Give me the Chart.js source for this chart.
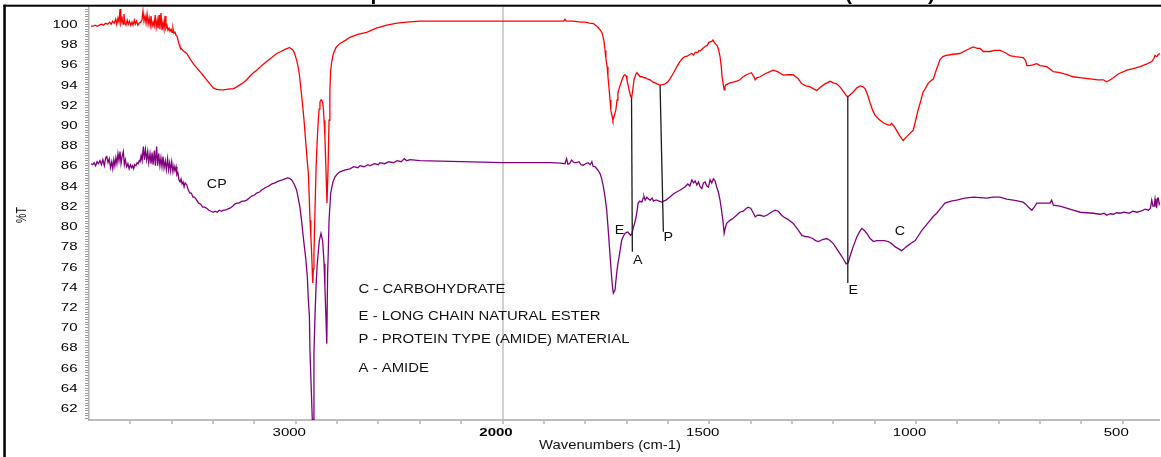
<!DOCTYPE html>
<html>
<head>
<meta charset="utf-8">
<script src="https://cdn.jsdelivr.net/npm/chart.js@4.4.1/dist/chart.umd.min.js"></script>
<style>
  html, body { margin: 0; padding: 0; background: #fff; overflow: hidden; }
  canvas { display: block; }
</style>
</head>
<body>
<canvas id="c" width="1161" height="457"></canvas>
<script>
// ---- axis ranges --------------------------------------------------------
const WN_MAX = 4000, WN_MIN = 410;      // wavenumber range, cm-1 (high on the left)
const AXIS_BREAK = 2000;                // below this wavenumber the axis is expanded
const AXIS_EXPAND = 2;                  // expansion factor below the break
const T_MIN = 60.85, T_MAX = 101.7;     // %T range

const xTickMarks = [3800, 3600, 3400, 3200, 3000, 2800, 2600, 2400, 2200, 2000,
                    1900, 1800, 1700, 1600, 1500, 1400, 1300, 1200, 1100, 1000,
                    900, 800, 700, 600, 500];
const xTickLabels = [3000, 2000, 1500, 1000, 500];
const yTickLabels = [62, 64, 66, 68, 70, 72, 74, 76, 78, 80, 82, 84, 86, 88, 90, 92, 94, 96, 98, 100];

// ---- spectra: [wavenumber cm-1, %T] ----------------------------------------
const upperSpectrum = [
  [3990,99.8],[3980,99.8],[3970,99.9],[3960,99.8],[3950,99.9],[3940,100.0],[3930,99.9],[3920,100.1],
  [3910,100.0],[3900,100.2],[3893,100.0],[3886,100.3],[3878,100.1],[3871,100.5],[3866,100.0],[3860,100.6],
  [3855,100.2],[3850,101.5],[3846,100.1],[3840,100.6],[3835,100.0],[3831,101.0],[3826,100.1],[3821,99.9],
  [3815,100.4],[3810,100.0],[3804,100.3],[3798,99.9],[3792,100.2],[3787,99.9],[3781,100.4],[3776,100.0],
  [3770,100.3],[3764,99.9],[3758,100.1],[3750,100.2],[3744,100.4],[3739,101.3],[3734,100.3],[3729,100.8],
  [3724,100.1],[3719,101.0],[3714,100.0],[3709,100.6],[3704,99.9],[3700,100.8],[3695,99.8],[3690,100.2],
  [3685,99.8],[3680,100.9],[3675,99.7],[3670,100.4],[3666,99.6],[3661,100.9],[3657,99.5],[3652,101.1],
  [3647,99.4],[3642,100.2],[3637,99.5],[3632,100.8],[3628,99.6],[3623,99.9],[3618,99.4],[3613,99.6],
  [3608,99.3],[3603,99.5],[3598,99.2],[3594,99.6],[3589,99.1],[3584,99.2],[3579,98.9],[3574,98.8],
  [3568,98.3],[3564,98.0],[3560,97.75],[3550,97.5],[3540,97.3],[3527,97.1],[3512,96.6],[3496,96.1],
  [3480,95.7],[3463,95.3],[3447,94.9],[3431,94.5],[3415,94.1],[3399,93.7],[3383,93.55],[3366,93.5],
  [3350,93.5],[3334,93.55],[3318,93.6],[3302,93.6],[3286,93.8],[3270,94.0],[3254,94.2],[3237,94.5],
  [3220,94.9],[3205,95.2],[3189,95.45],[3165,95.9],[3141,96.3],[3116,96.7],[3092,97.1],[3072,97.3],
  [3052,97.5],[3040,97.6],[3031,97.7],[3020,97.55],[3012,97.4],[3004,97.0],[2995,96.4],[2989,95.8],
  [2983,95.1],[2977,94.0],[2971,92.8],[2965,91.6],[2960,90.5],[2955,89.2],[2950,87.9],[2945,86.6],
  [2939,85.2],[2935,83.0],[2931,80.6],[2927,79.0],[2923,77.3],[2918,74.4],[2915,75.8],[2912,77.3],
  [2907,81.5],[2902,85.6],[2897,88.2],[2891,90.5],[2887,91.6],[2883,92.3],[2878,92.5],[2874,92.5],
  [2870,92.2],[2867,91.8],[2863,90.5],[2859,88.9],[2854,85.6],[2849,82.3],[2844,85.6],[2839,90.5],
  [2835,93.5],[2831,95.45],[2825,96.4],[2818,97.1],[2805,97.7],[2786,98.1],[2760,98.4],[2738,98.7],
  [2700,99.0],[2657,99.2],[2610,99.6],[2560,99.9],[2510,100.1],[2463,100.2],[2400,100.3],[2300,100.3],
  [2200,100.3],[2100,100.3],[2000,100.3],[1900,100.3],[1852,100.3],[1849,100.5],[1846,100.3],[1830,100.3],
  [1810,100.2],[1800,100.2],[1790,100.1],[1780,100.05],[1775,99.9],[1769,99.7],[1763,99.4],[1759,99.1],
  [1755,98.4],[1752,97.4],[1750,96.6],[1747,95.8],[1745,94.8],[1742,93.5],[1740,92.5],[1738,91.5],
  [1735,90.9],[1733,90.5],[1730,90.9],[1726,91.5],[1723,92.5],[1721,93.2],[1716,93.9],[1711,94.5],
  [1707,94.9],[1704,95.0],[1701,94.9],[1699,94.5],[1695,93.7],[1691,93.0],[1688,92.65],[1685,93.5],
  [1682,94.5],[1678,95.0],[1675,95.2],[1671,95.0],[1667,94.8],[1662,94.8],[1658,94.7],[1655,94.7],
  [1650,94.6],[1643,94.5],[1637,94.3],[1631,94.2],[1626,94.1],[1622,94.0],[1615,94.0],[1607,94.1],
  [1600,94.3],[1595,94.6],[1589,95.0],[1583,95.45],[1577,95.9],[1571,96.3],[1565,96.6],[1559,96.8],
  [1553,96.85],[1547,97.0],[1542,97.1],[1538,96.95],[1534,97.2],[1528,97.2],[1525,97.4],[1522,97.35],
  [1516,97.6],[1510,97.8],[1505,97.9],[1501,98.2],[1498,98.25],[1494,98.3],[1491,98.45],[1488,98.2],
  [1484,98.0],[1481,97.9],[1477,97.4],[1474,96.8],[1471,95.8],[1469,94.8],[1466,94.0],[1464,93.5],
  [1462,93.8],[1460,94.0],[1455,94.1],[1450,94.2],[1440,94.3],[1432,94.4],[1426,94.5],[1418,94.8],
  [1410,95.0],[1398,95.2],[1392,94.8],[1389,94.5],[1385,94.7],[1377,94.8],[1365,95.1],[1353,95.3],
  [1345,95.45],[1335,95.3],[1321,94.96],[1310,95.0],[1297,95.0],[1285,94.6],[1276,94.1],[1266,93.9],
  [1256,93.8],[1248,93.6],[1240,93.45],[1230,93.8],[1220,94.1],[1208,94.35],[1200,94.2],[1192,94.1],
  [1184,93.8],[1175,93.3],[1168,92.9],[1164,92.85],[1160,93.0],[1152,93.3],[1143,93.7],[1135,93.9],
  [1128,93.8],[1123,93.6],[1117,93.0],[1111,92.2],[1105,91.5],[1099,91.0],[1090,90.6],[1079,90.25],
  [1071,90.1],[1063,90.0],[1059,90.2],[1053,89.9],[1047,89.5],[1040,89.0],[1035,88.7],[1031,88.5],
  [1024,88.8],[1015,89.2],[1007,89.5],[1002,90.3],[995,91.5],[990,92.2],[983,93.3],[978,93.6],
  [970,94.2],[958,94.6],[950,95.6],[942,96.5],[935,96.8],[929,96.9],[915,97.0],[894,97.1],
  [880,97.4],[862,97.75],[852,97.6],[845,97.6],[837,97.3],[821,97.3],[810,97.4],[797,97.4],
  [785,97.2],[773,96.9],[760,96.8],[741,96.7],[735,96.4],[732,95.9],[725,95.9],[716,96.0],
  [708,96.1],[700,95.9],[684,95.8],[672,95.45],[668,95.3],[652,95.2],[635,95.0],[620,94.8],
  [600,94.7],[579,94.6],[560,94.5],[547,94.5],[539,94.3],[530,94.5],[523,94.7],[510,95.1],
  [490,95.45],[475,95.6],[458,95.8],[440,96.1],[430,96.3],[425,96.6],[422,96.9],[418,96.8],
  [414,97.0],[410,97.1]
];

const lowerSpectrum = [
  [3990,86.2],[3982,86.1],[3975,86.3],[3968,86.0],[3961,86.4],[3955,86.2],[3947,86.5],[3940,86.1],
  [3933,86.6],[3926,86.0],[3919,86.8],[3914,86.9],[3908,86.3],[3902,86.7],[3896,85.8],[3890,86.4],
  [3885,85.7],[3880,86.6],[3875,86.0],[3870,86.8],[3865,86.2],[3860,87.2],[3855,86.5],[3850,87.4],
  [3845,86.2],[3840,86.9],[3834,87.4],[3829,86.1],[3824,86.6],[3818,85.9],[3812,86.2],[3806,85.7],
  [3800,86.1],[3794,85.8],[3789,86.0],[3784,85.7],[3779,86.1],[3773,86.0],[3767,86.3],[3762,86.2],
  [3757,86.5],[3753,86.4],[3748,87.0],[3743,86.5],[3737,87.9],[3732,86.6],[3727,87.6],[3721,86.6],
  [3716,87.4],[3711,86.3],[3705,87.2],[3700,86.2],[3695,87.3],[3690,86.1],[3684,87.5],[3679,86.0],
  [3673,87.9],[3668,86.0],[3663,87.2],[3657,86.0],[3652,86.8],[3647,85.9],[3642,86.9],[3637,85.8],
  [3631,86.5],[3626,85.6],[3620,86.7],[3615,85.6],[3610,86.3],[3605,85.5],[3600,86.4],[3594,85.4],
  [3589,86.0],[3584,85.5],[3579,85.9],[3575,85.1],[3570,85.3],[3565,84.6],[3560,84.4],[3555,84.7],
  [3550,84.2],[3545,84.4],[3540,83.9],[3535,84.3],[3527,84.1],[3520,83.6],[3512,83.3],[3505,83.3],
  [3497,82.9],[3490,82.9],[3479,82.6],[3470,82.3],[3460,82.2],[3450,81.9],[3440,81.9],[3431,81.8],
  [3420,81.6],[3410,81.5],[3399,81.4],[3390,81.5],[3380,81.4],[3370,81.6],[3360,81.5],[3350,81.6],
  [3340,81.6],[3330,81.7],[3318,81.8],[3305,82.0],[3295,82.2],[3286,82.3],[3275,82.3],[3260,82.5],
  [3250,82.5],[3237,82.6],[3225,82.8],[3212,83.0],[3200,83.1],[3189,83.3],[3175,83.4],[3165,83.6],
  [3150,83.8],[3141,83.9],[3130,84.0],[3115,84.2],[3100,84.3],[3092,84.4],[3080,84.5],[3065,84.6],
  [3052,84.7],[3040,84.8],[3030,84.75],[3020,84.6],[3008,84.2],[2996,83.6],[2988,82.8],[2980,81.9],
  [2972,80.6],[2966,79.4],[2960,78.3],[2951,76.7],[2944,75.0],[2939,72.7],[2934,71.1],[2931,67.5],
  [2926,64.5],[2920,60.9],[2915,60.9],[2912,67.5],[2907,71.1],[2902,74.0],[2896,76.3],[2886,78.6],
  [2878,79.3],[2870,78.6],[2863,76.3],[2859,74.0],[2854,71.0],[2850,68.4],[2846,75.3],[2843,77.3],
  [2839,80.6],[2831,83.3],[2820,84.4],[2810,84.9],[2798,85.2],[2786,85.4],[2760,85.6],[2738,85.7],
  [2720,85.9],[2700,85.8],[2689,86.0],[2670,85.9],[2650,86.1],[2641,86.0],[2620,86.2],[2600,86.1],
  [2593,86.3],[2570,86.2],[2550,86.4],[2528,86.3],[2510,86.5],[2490,86.4],[2475,86.7],[2463,86.5],
  [2447,86.6],[2400,86.5],[2300,86.45],[2200,86.4],[2100,86.35],[2000,86.3],[1900,86.3],[1885,86.3],
  [1860,86.25],[1849,86.2],[1845,86.7],[1842,86.15],[1838,86.2],[1833,86.55],[1827,86.3],[1821,86.3],
  [1815,86.4],[1810,86.1],[1805,86.05],[1799,86.2],[1793,86.3],[1788,86.1],[1784,86.4],[1781,85.96],
  [1776,85.9],[1772,85.7],[1768,85.5],[1764,85.2],[1760,84.7],[1756,83.9],[1752,82.9],[1748,81.6],
  [1745,80.0],[1742,78.3],[1739,76.6],[1736,74.95],[1734,74.0],[1732,73.4],[1728,73.7],[1724,75.35],
  [1721,76.3],[1718,77.0],[1715,77.8],[1712,78.6],[1708,79.0],[1704,79.3],[1700,79.4],[1697,79.45],
  [1694,79.3],[1690,79.1],[1687,79.3],[1684,79.8],[1680,80.4],[1677,80.95],[1674,81.7],[1672,82.3],
  [1668,82.5],[1663,82.4],[1660,82.8],[1658,83.0],[1655,82.6],[1651,82.9],[1647,82.7],[1643,82.6],
  [1638,82.8],[1635,82.5],[1630,82.6],[1627,82.6],[1621,82.5],[1615,82.4],[1605,82.6],[1595,82.9],
  [1587,83.2],[1579,83.4],[1570,83.6],[1559,83.9],[1552,84.2],[1547,84.0],[1542,84.6],[1538,84.3],
  [1534,84.5],[1530,84.1],[1526,84.4],[1522,83.9],[1518,83.75],[1514,84.3],[1510,84.4],[1506,84.0],
  [1502,83.9],[1498,84.6],[1494,84.3],[1490,84.7],[1486,84.5],[1482,83.9],[1478,83.4],[1474,82.6],
  [1470,81.5],[1467,80.6],[1464,79.3],[1461,79.9],[1458,80.3],[1450,80.6],[1442,80.8],[1434,81.1],
  [1426,81.4],[1418,81.5],[1410,81.8],[1406,81.9],[1400,81.8],[1397,81.6],[1392,81.2],[1389,80.95],
  [1383,81.1],[1377,81.1],[1368,81.0],[1361,81.1],[1350,81.4],[1341,81.6],[1333,81.5],[1325,81.1],
  [1321,80.95],[1310,80.7],[1297,80.3],[1286,79.7],[1276,79.1],[1268,79.0],[1260,78.97],[1250,78.8],
  [1243,78.6],[1236,78.5],[1226,78.7],[1216,78.8],[1208,78.6],[1200,78.3],[1192,77.8],[1184,77.3],
  [1176,76.8],[1169,76.3],[1164,76.4],[1160,77.0],[1152,78.0],[1143,78.97],[1136,79.5],[1131,79.8],
  [1125,79.6],[1119,79.3],[1111,78.8],[1103,78.5],[1095,78.6],[1087,78.6],[1077,78.6],[1067,78.5],
  [1059,78.3],[1051,78.0],[1043,77.8],[1035,77.6],[1029,77.8],[1023,78.0],[1013,78.3],[1002,78.6],
  [994,79.1],[986,79.6],[976,80.1],[966,80.6],[958,81.0],[950,81.3],[940,81.8],[930,82.3],
  [915,82.5],[902,82.6],[882,82.8],[861,82.9],[845,82.85],[829,82.8],[813,82.9],[797,82.9],
  [781,82.7],[765,82.6],[752,82.5],[741,82.4],[735,82.2],[728,81.9],[720,81.6],[714,81.9],
  [708,82.3],[690,82.3],[676,82.3],[672,82.6],[668,82.1],[652,82.0],[636,81.8],[620,81.6],
  [603,81.4],[587,81.35],[571,81.3],[555,81.2],[545,81.3],[539,81.1],[530,81.25],[523,81.2],
  [515,81.35],[507,81.3],[497,81.4],[485,81.3],[476,81.5],[466,81.4],[456,81.5],[446,81.7],
  [438,81.6],[433,81.8],[430,82.6],[427,82.0],[424,82.0],[422,82.7],[420,82.0],[418,81.9],
  [416,82.8],[414,82.8],[412,82.2],[410,82.4]
];

// band assignment lines: [wn top, %T top, wn bottom, %T bottom]
const markerLines = [
  [1688, 92.65, 1686, 77.48],
  [1619, 93.97, 1611, 79.46],
  [1165, 92.9, 1165, 74.4]
];

// band letters, centred at [wn, %T]
const bandLabels = [
  ['CP', 3382, 84.25],
  ['E', 1717, 79.7],
  ['A', 1673, 76.7],
  ['P', 1599, 78.97],
  ['E', 1152, 73.77],
  ['C', 1039, 79.6]
];

// key to the band letters, left-aligned at wn 2696
const keyLines = [
  ['C - CARBOHYDRATE', 73.9],
  ['E - LONG CHAIN NATURAL ESTER', 71.23],
  ['P - PROTEIN TYPE (AMIDE) MATERIAL', 68.87],
  ['A - AMIDE', 66.06]
];
const KEY_WN = 2696;

// ---- wavenumber axis with a 2x expansion below 2000 cm-1 ----------------
const LinearScale = Chart.LinearScale || Chart.registry.getScale('linear');
class BrokenAxisScale extends LinearScale {
  _offsetOf(v) {
    return v >= AXIS_BREAK ? this.max - v
                           : (this.max - AXIS_BREAK) + AXIS_EXPAND * (AXIS_BREAK - v);
  }
  getPixelForValue(v) {
    return this.left + this.width * this._offsetOf(v) / this._offsetOf(this.min);
  }
  getValueForPixel(px) {
    const o = (px - this.left) / this.width * this._offsetOf(this.min);
    const head = this.max - AXIS_BREAK;
    return o <= head ? this.max - o : AXIS_BREAK - (o - head) / AXIS_EXPAND;
  }
}
BrokenAxisScale.id = 'brokenAxis';
BrokenAxisScale.defaults = LinearScale.defaults;
Chart.register(BrokenAxisScale);

// ---- text helpers ---------------------------------------------------------
const FONT = "'Liberation Sans', Arial, sans-serif";
function wideText(ctx, text, x, y, o) {
  ctx.save();
  ctx.translate(x, y);
  if (o.rotate) ctx.rotate(o.rotate);
  ctx.scale(o.sx || 1, o.sy || 1);
  ctx.font = (o.bold ? 'bold ' : '') + o.size + 'px ' + FONT;
  ctx.textAlign = o.align || 'left';
  ctx.textBaseline = 'alphabetic';
  ctx.fillStyle = o.color || '#111';
  ctx.fillText(text, 0, 0);
  ctx.restore();
}

const overlay = {
  id: 'overlay',
  afterDraw(chart) {
    const { ctx } = chart;
    const xs = chart.scales.x, ys = chart.scales.y;
    ctx.save();

    // frame
    ctx.fillStyle = '#000';
    ctx.fillRect(3.3, 4.7, 1157.7, 2);
    ctx.fillRect(3.3, 4.7, 2.5, 452.3);

    // lower edge of the heading running off the top
    ctx.font = 'bold 21px ' + FONT;
    ctx.textBaseline = 'alphabetic';
    ctx.textAlign = 'left';
    ctx.fillText('p', 370.5, -0.5);
    ctx.fillText('(', 845, -0.5);
    ctx.fillText(')', 928, -0.5);

    // tick labels
    yTickLabels.forEach(v => {
      wideText(ctx, String(v), 77.5, ys.getPixelForValue(v) + 3.75,
               { size: 10.5, sx: 1.43, align: 'right', color: '#000' });
    });
    xTickLabels.forEach(v => {
      wideText(ctx, String(v), xs.getPixelForValue(v) - 6.5, 436,
               { size: 10.5, sx: 1.43, align: 'center', color: '#000', bold: v === AXIS_BREAK });
    });

    // axis titles
    wideText(ctx, 'Wavenumbers (cm-1)', 610, 448.5, { size: 13, sx: 1.14, align: 'center' });
    wideText(ctx, '%T', 25.5, 215, { size: 10.5, sy: 1.43, align: 'center', rotate: -Math.PI / 2 });

    // band assignment lines
    ctx.strokeStyle = '#1c1c1c';
    ctx.lineWidth = 1.3;
    markerLines.forEach(([w1, t1, w2, t2]) => {
      ctx.beginPath();
      ctx.moveTo(xs.getPixelForValue(w1), ys.getPixelForValue(t1));
      ctx.lineTo(xs.getPixelForValue(w2), ys.getPixelForValue(t2));
      ctx.stroke();
    });

    // band letters
    bandLabels.forEach(([txt, w, t]) => {
      wideText(ctx, txt, xs.getPixelForValue(w), ys.getPixelForValue(t) + 4.3,
               { size: 12, sx: 1.19, align: 'center' });
    });

    // key
    keyLines.forEach(([txt, t]) => {
      wideText(ctx, txt, xs.getPixelForValue(KEY_WN), ys.getPixelForValue(t) + 4.5,
               { size: 12.5, sx: 1.19, align: 'left' });
    });

    ctx.restore();
  }
};

const toPoints = arr => arr.map(([x, y]) => ({ x, y }));

new Chart(document.getElementById('c'), {
  type: 'line',
  data: {
    datasets: [
      { label: 'upper trace', data: toPoints(upperSpectrum), borderColor: '#ff0000',
        borderWidth: 1.3, pointRadius: 0, fill: false, tension: 0 },
      { label: 'lower trace', data: toPoints(lowerSpectrum), borderColor: '#800080',
        borderWidth: 1.3, pointRadius: 0, fill: false, tension: 0 }
    ]
  },
  options: {
    responsive: false,
    animation: false,
    layout: { padding: { top: 7, right: 1, left: 0, bottom: 0 } },
    plugins: { legend: { display: false }, tooltip: { enabled: false }, title: { display: false } },
    scales: {
      x: {
        type: 'brokenAxis',
        min: WN_MIN,
        max: WN_MAX,
        afterBuildTicks: s => { s.ticks = xTickMarks.map(v => ({ value: v })); },
        afterFit: s => { s.height = 37; },
        ticks: { display: false },
        grid: {
          drawOnChartArea: true,
          drawTicks: true,
          tickLength: 4,
          tickColor: '#8c8c8c',
          tickWidth: 1,
          color: c => (c.tick && c.tick.value === AXIS_BREAK) ? '#d0d0d0' : 'rgba(0,0,0,0)',
          lineWidth: c => (c.tick && c.tick.value === AXIS_BREAK) ? 2 : 0
        },
        border: { display: true, color: '#bdbdbd', width: 2 }
      },
      y: {
        type: 'linear',
        min: T_MIN,
        max: T_MAX,
        afterBuildTicks: s => {
          const t = [];
          for (let i = 0; i <= 162; i++) t.push({ value: 61 + i * 0.25 });
          s.ticks = t;
        },
        afterFit: s => { s.width = 89; },
        ticks: { display: false },
        grid: { drawOnChartArea: false, drawTicks: true, tickLength: 4, tickColor: '#9a9a9a', tickWidth: 1 },
        border: { display: true, color: '#b0b0b0', width: 1.5 }
      }
    }
  },
  plugins: [overlay]
});
</script>
</body>
</html>
